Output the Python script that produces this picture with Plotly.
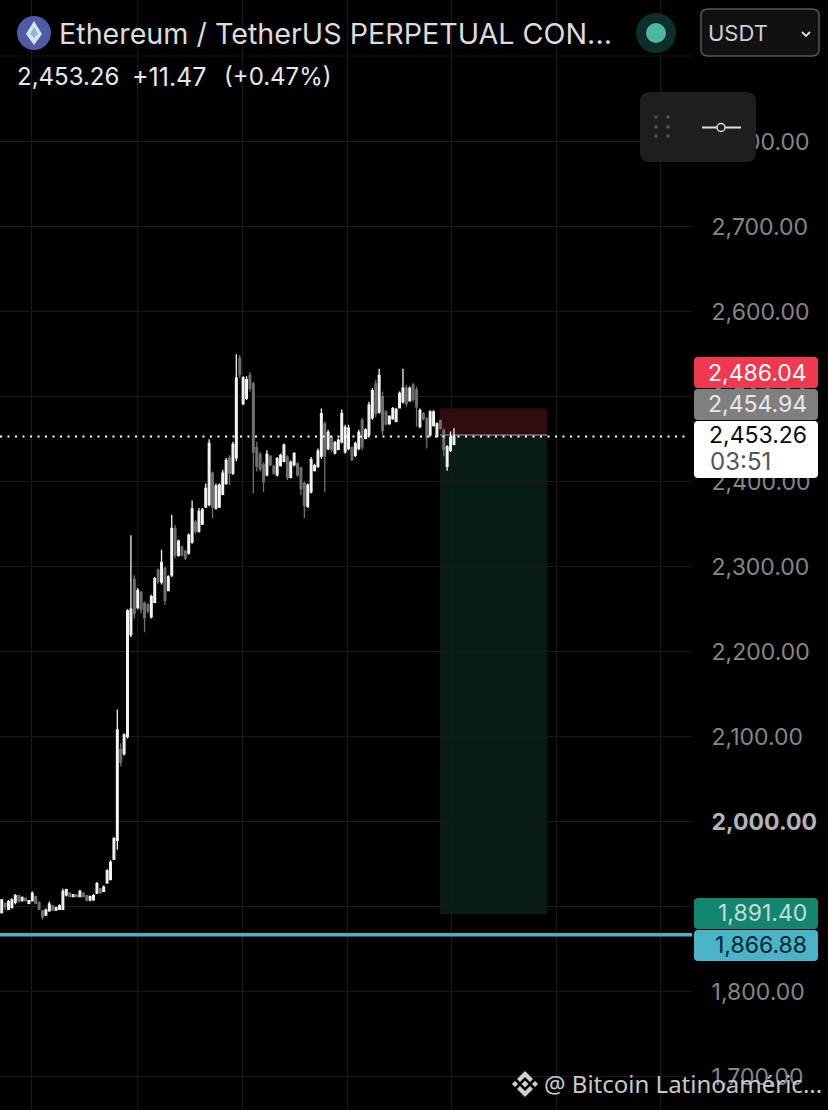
import plotly.graph_objects as go

W, H = 828, 1110

# OHLC
opens = [1893,1904,1897,1899,1905,1913,1907,1910,1904,1907,1912,1905,1895,1890,1895,1901,1896,1897,1897,1914,
         1916,1912,1914,1912,1916,1913,1908,1908,1916,1921,1918,1928,1932,1956,1978,2085,2080,2100,2220,2285,
         2252,2270,2257,2255,2241,2258,2296,2282,2298,2272,2290,2345,2313,2323,2318,2316,2329,2352,2342,2350,
         2370,2373,2410,2369,2370,2385,2398,2428,2410,2428,2545,2492,2498,2525,2515,2440,2432,2420,2408,2430,
         2418,2408,2419,2424,2429,2405,2420,2421,2416,2398,2371,2388,2413,2418,2430,2468,2439,2453,2434,2438,
         2447,2435,2439,2440,2431,2439,2472,2451,2455,2475,2515,2482,2500,2482,2468,2474,2471,2487,2494,2510,
         2495,2514,2508,2465,2480,2474,2455,2466,2453,2472,2460,2418,2437,2444]
highs = [1909,1905,1908,1910,1915,1914,1912,1910,1908,1918,1913,1906,1896,1898,1906,1902,1900,1903,1921,1921,
         1917,1915,1915,1920,1917,1914,1913,1915,1929,1922,1925,1944,1955,1982,2132,2092,2104,2250,2337,2290,
         2275,2271,2259,2257,2267,2288,2298,2320,2300,2290,2361,2349,2332,2325,2320,2339,2378,2355,2369,2369,
         2398,2450,2412,2398,2398,2414,2428,2431,2447,2550,2549,2524,2524,2529,2518,2447,2435,2423,2437,2431,
         2420,2429,2433,2445,2431,2425,2435,2423,2418,2400,2398,2429,2421,2439,2486,2471,2461,2455,2448,2451,
         2485,2467,2467,2441,2447,2461,2475,2463,2494,2510,2520,2533,2506,2484,2478,2488,2487,2506,2533,2514,
         2512,2516,2512,2486,2482,2476,2484,2484,2470,2473,2463,2443,2459,2463]
lows = [1892,1896,1896,1898,1903,1905,1906,1906,1903,1906,1903,1896,1885,1890,1894,1895,1895,1896,1896,1912,
        1911,1911,1911,1911,1911,1906,1906,1907,1915,1915,1918,1927,1931,1955,1967,2065,2078,2098,2217,2239,
        2250,2245,2223,2245,2239,2257,2280,2279,2255,2271,2288,2310,2312,2312,2308,2314,2327,2339,2340,2349,
        2369,2371,2357,2367,2369,2384,2396,2396,2408,2424,2522,2490,2496,2506,2386,2412,2412,2388,2406,2418,
        2408,2406,2418,2423,2402,2404,2418,2406,2384,2357,2369,2386,2412,2416,2427,2388,2437,2435,2432,2437,
        2445,2433,2437,2424,2429,2437,2437,2450,2453,2473,2476,2480,2455,2466,2467,2473,2470,2486,2492,2488,
        2494,2494,2465,2463,2472,2439,2453,2465,2452,2461,2430,2413,2435,2443]
closes = [1908,1900,1906,1908,1913,1907,1911,1907,1907,1916,1904,1897,1888,1896,1903,1896,1899,1901,1918,1920,
          1912,1914,1912,1918,1912,1908,1912,1913,1927,1917,1923,1942,1952,1980,2108,2070,2102,2248,2250,2245,
          2272,2250,2240,2248,2265,2286,2283,2305,2260,2288,2345,2314,2330,2314,2310,2337,2368,2342,2365,2367,
          2392,2445,2370,2395,2396,2410,2425,2410,2444,2522,2526,2522,2520,2510,2435,2418,2415,2400,2432,2420,
          2410,2427,2431,2443,2405,2423,2433,2408,2392,2372,2396,2426,2419,2436,2480,2430,2458,2438,2446,2449,
          2480,2464,2463,2426,2445,2458,2441,2461,2490,2507,2480,2525,2460,2468,2477,2486,2485,2504,2510,2492,
          2510,2497,2488,2484,2474,2452,2482,2482,2468,2463,2438,2441,2452,2453.26]

y_ticks = [1700, 1800, 1900, 2000, 2100, 2200, 2300, 2400, 2500, 2600, 2700, 2800]
y_labels = ["1,700.00", "1,800.00", "1,900.00", "<b style='color:#b4b4b4'>2,000.00</b>", "2,100.00", "2,200.00",
            "2,300.00", "2,400.00", "2,500.00", "2,600.00", "2,700.00", "2,800.00"]
x_grid = [8.9, 39.8, 70.7, 101.6, 132.2, 163.1, 193.6]

last_price = 2453.26
entry = 2454.94
stop = 2486.04
target = 1891.40
support = 1866.88
box_start, box_end = 128.9, 160.4


def px(x):
    return x / W


def py(y):
    return 1 - y / H


def rounded(x0, y0, x1, y1, r):
    a, b, c, d = px(x0), py(y0), px(x1), py(y1)
    rx, ry = r / W, r / H
    return (f"M{a+rx},{b} L{c-rx},{b} Q{c},{b} {c},{b-ry} L{c},{d+ry} Q{c},{d} {c-rx},{d} "
            f"L{a+rx},{d} Q{a},{d} {a},{d+ry} L{a},{b-ry} Q{a},{b} {a+rx},{b} Z")


def poly(points):
    return "M" + " L".join(f"{px(x)},{py(y)}" for x, y in points) + " Z"


def box(x0, y0, x1, y1, r, fill, line=None):
    return dict(type="path", xref="paper", yref="paper", path=rounded(x0, y0, x1, y1, r),
                fillcolor=fill, line=dict(color=line or fill, width=1.5 if line else 0))


def dot(cx, cy, r, fill, line=None):
    return dict(type="circle", xref="paper", yref="paper", x0=px(cx - r), x1=px(cx + r),
                y0=py(cy + r), y1=py(cy - r), fillcolor=fill,
                line=dict(color=line or fill, width=1.5 if line else 0))


def label(x, y, text, size, color, anchor="left", family="Inter"):
    return dict(xref="paper", yref="paper", x=px(x), y=py(y), text=text, showarrow=False,
                xanchor=anchor, yanchor="middle", font=dict(family=family, size=size, color=color),
                borderpad=0, borderwidth=0)


fig = go.Figure(go.Candlestick(
    x=list(range(len(opens))), open=opens, high=highs, low=lows, close=closes,
    increasing=dict(line=dict(color="#f4f4f4", width=1.3), fillcolor="#f4f4f4"),
    decreasing=dict(line=dict(color="#707070", width=1.3), fillcolor="#707070"),
    whiskerwidth=0, hoverinfo="skip",
))

shapes = [
    # short position box
    dict(type="rect", x0=box_start, x1=box_end, y0=entry, y1=stop, layer="below",
         fillcolor="#300c10", line_width=0),
    dict(type="rect", x0=box_start, x1=box_end, y0=target, y1=entry, layer="below",
         fillcolor="#081b17", line_width=0),
    dict(type="line", x0=box_start, x1=box_end, y0=entry, y1=entry, layer="below",
         line=dict(color="#777777", width=1.5)),
    dict(type="line", xref="paper", x0=0, x1=px(688), y0=last_price, y1=last_price,
         line=dict(color="#ffffff", width=2, dash="2px 5.5px")),
    dict(type="line", xref="paper", x0=0, x1=px(692), y0=support, y1=support,
         line=dict(color="#4fb3c6", width=3.5)),
    dict(type="line", xref="paper", yref="paper", x0=0, x1=px(692), y0=py(56), y1=py(56),
         line=dict(color="#141414", width=1)),
    # price badges
    box(694, 357, 818, 388, 4, "#f2384f"),
    box(694, 389, 818, 420, 4, "#7f7f7f"),
    box(694, 421, 818, 478, 4, "#ffffff"),
    box(694, 898, 818, 929, 4, "#14866f"),
    box(694, 930, 818, 961, 4, "#4ab3c8"),
    # header
    dot(34, 33, 17, "#4e5ba6"),
    dict(type="path", xref="paper", yref="paper", fillcolor="#d6e4ef", line_width=0,
         path=poly([(34, 21), (42, 34), (34, 45), (26, 34)])),
    dict(type="path", xref="paper", yref="paper", fillcolor="#8fb8cf", line_width=0,
         path=poly([(34, 27), (38, 34), (34, 38), (30, 34)])),
    dot(656, 33, 20, "#0d2f2b"),
    dot(656, 33, 10, "#4cb8a4"),
    box(701, 9, 819, 56, 7, "#111111", "#555555"),
    dict(type="path", xref="paper", yref="paper", line=dict(color="#dddddd", width=1.8),
         path=f"M{px(802)},{py(32)} L{px(806)},{py(36)} L{px(810)},{py(32)}"),
    # floating panel
    box(640, 92, 756, 162, 10, "#1e1e1e"),
    dict(type="line", xref="paper", yref="paper", x0=px(702), x1=px(741), y0=py(127.5), y1=py(127.5),
         line=dict(color="#dddddd", width=1.8)),
    dot(721, 127.5, 4, "#1e1e1e", "#dddddd"),
]
for cx in (656, 668):
    for cy in (117, 127, 136):
        shapes.append(dot(cx, cy, 1.7, "#555555"))

# binance mark
for cx, s in [(525, 3.5), (515, 3), (535, 3)]:
    shapes.append(dict(type="path", xref="paper", yref="paper", fillcolor="#cfcfcf", line_width=0,
                       path=poly([(cx, 1084 - s), (cx + s, 1084), (cx, 1084 + s), (cx - s, 1084)])))
shapes.append(dict(type="path", xref="paper", yref="paper", fillcolor="#cfcfcf", line_width=0,
                   path=poly([(525, 1071), (533, 1079), (530, 1082), (525, 1077), (520, 1082), (517, 1079)])))
shapes.append(dict(type="path", xref="paper", yref="paper", fillcolor="#cfcfcf", line_width=0,
                   path=poly([(525, 1097), (533, 1089), (530, 1086), (525, 1091), (520, 1086), (517, 1089)])))

annotations = [
    label(59, 33, "Ethereum / TetherUS PERPETUAL CON...", 28.7, "#dcdcdc"),
    label(17, 77, "2,453.26", 24, "#e8e8e8"),
    label(132, 77, "+11.47", 25, "#e8e8e8"),
    label(224, 77, "(+0.47%)", 24, "#e8e8e8"),
    label(708, 33, "USDT", 22, "#cfcfcf"),
    label(807, 372.5, "2,486.04", 23, "#ffffff", "right"),
    label(807, 404.5, "2,454.94", 23, "#e8e8e8", "right"),
    label(807, 435, "2,453.26", 23, "#0a0a0a", "right"),
    label(710, 462, "03:51", 24, "#555555"),
    label(807, 913, "1,891.40", 23, "#c4dcd7", "right"),
    label(807, 945, "1,866.88", 23, "#08262c", "right"),
    label(544, 1083.5, "@ Bitcoin Latinoaméric...", 24, "#c8c8c8", family="Noto Sans"),
]

fig.update_layout(
    width=W, height=H,
    margin=dict(l=0, r=0, t=0, b=0),
    paper_bgcolor="#000000", plot_bgcolor="#000000",
    showlegend=False,
    shapes=shapes, annotations=annotations,
    xaxis=dict(domain=[0, 692 / W], range=[-0.5, 203], rangeslider=dict(visible=False),
               tickvals=x_grid, showticklabels=False, ticks="", showgrid=True,
               gridcolor="#1a1a1a", gridwidth=1, zeroline=False, showline=False, fixedrange=True),
    yaxis=dict(side="right", range=[1660.8, 2966.7], tickvals=y_ticks, ticktext=y_labels,
               tickfont=dict(family="Inter", size=23, color="#868686"), ticks="outside", ticklen=14,
               tickcolor="rgba(0,0,0,0)", showgrid=True, gridcolor="#1a1a1a", gridwidth=1,
               zeroline=False, showline=False, fixedrange=True),
)

fig.write_html("out.html", config=dict(displayModeBar=False),
               post_script="document.body.style.margin='0';document.body.style.background='#000';")
